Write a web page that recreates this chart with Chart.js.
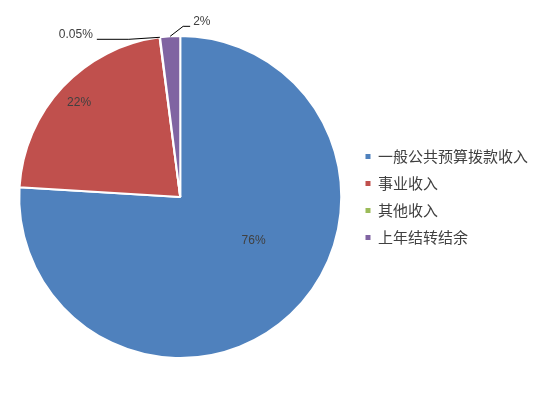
<!DOCTYPE html>
<html>
<head>
<meta charset="utf-8">
<script src="https://cdn.jsdelivr.net/npm/chart.js@4"></script>
<style>
html,body{margin:0;padding:0;background:#fff;}
#wrap{width:546px;height:394px;position:relative;}
</style>
</head>
<body>
<div id="wrap"><canvas id="pie"></canvas></div>
<script>
// data
const categories = ["一般公共预算拨款收入", "事业收入", "其他收入", "上年结转结余"];
const values = [76, 22, 0.05, 2];
const pctLabels = ["76%", "22%", "0.05%", "2%"];
const colors = ["#4F81BD", "#C0504D", "#9BBB59", "#8064A2"];

// where each percent label goes (inside at a radius ratio, or outside with a leader)
const labelPlace = [
  {type: "in", ratio: 0.53, turn: -16},
  {type: "in", ratio: 0.86, turn: 0},
  {type: "out", elbow: [-31, 2], end: [-63, 2], align: "right"},
  {type: "out", elbow: [13, -10], end: [20, -10], align: "left"}
];

const pctLabelPlugin = {
  id: "pctLabels",
  afterDatasetsDraw(chart) {
    const ctx = chart.ctx;
    const meta = chart.getDatasetMeta(0);
    ctx.save();
    ctx.font = "12px 'Liberation Sans', Arial, sans-serif";
    ctx.fillStyle = "#404040";
    meta.data.forEach((arc, i) => {
      const p = labelPlace[i];
      const r = arc.outerRadius;
      let mid = (arc.startAngle + arc.endAngle) / 2;
      if (p.type == "in") {
        mid += p.turn * Math.PI / 180;
        const x = arc.x + Math.cos(mid) * r * p.ratio;
        const y = arc.y + Math.sin(mid) * r * p.ratio;
        ctx.textAlign = "center";
        ctx.textBaseline = "middle";
        ctx.fillText(pctLabels[i], x, y);
      } else {
        const ex = arc.x + Math.cos(mid) * r;
        const ey = arc.y + Math.sin(mid) * r;
        ctx.strokeStyle = "#000";
        ctx.lineWidth = 1;
        ctx.beginPath();
        ctx.moveTo(ex, ey);
        ctx.lineTo(ex + p.elbow[0], ey + p.elbow[1]);
        ctx.lineTo(ex + p.end[0], ey + p.end[1]);
        ctx.stroke();
        ctx.textAlign = p.align;
        ctx.textBaseline = "bottom";
        const tx = ex + p.end[0] + (p.align == "right" ? -4 : 3);
        ctx.fillText(pctLabels[i], tx, ey + p.end[1] + 1);
      }
    });
    ctx.restore();
  }
};

const baseLabels = Chart.overrides.pie.plugins.legend.labels.generateLabels;

new Chart(document.getElementById("pie"), {
  type: "pie",
  data: {
    labels: categories,
    datasets: [{
      data: values,
      backgroundColor: colors,
      borderColor: "#fff",
      borderWidth: 2
    }]
  },
  options: {
    responsive: true,
    maintainAspectRatio: false,
    animation: false,
    layout: {padding: {left: 7, right: 8, top: 35, bottom: 35}},
    plugins: {
      tooltip: {enabled: false},
      legend: {
        position: "right",
        labels: {
          boxWidth: 5,
          boxHeight: 5,
          padding: 12,
          color: "#404040",
          font: {family: "'Noto Sans CJK SC', sans-serif", size: 15},
          generateLabels(chart) {
            return baseLabels(chart).map(it => Object.assign(it, {lineWidth: 0}));
          }
        }
      }
    }
  },
  plugins: [pctLabelPlugin]
});
</script>
</body>
</html>
